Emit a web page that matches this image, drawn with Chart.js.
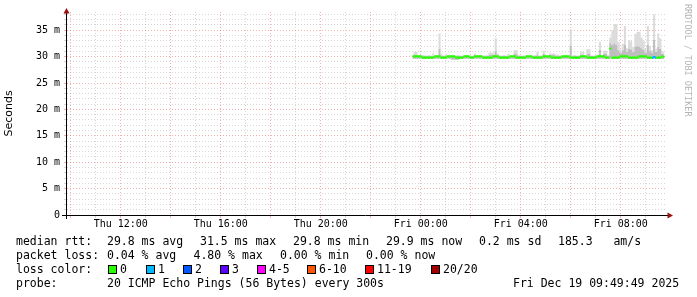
<!DOCTYPE html>
<html>
<head>
<meta charset="utf-8">
<script src="https://cdn.jsdelivr.net/npm/chart.js"></script>
<style>
  html, body { margin: 0; padding: 0; background: #fff; }
  #wrap { position: relative; width: 697px; height: 297px; overflow: hidden; }
  #c { position: absolute; left: 0; top: 0; }
  .t { position: absolute; font: 11.5px/14px 'DejaVu Sans Mono', monospace; color: #000; white-space: pre; }
  .box { position: absolute; width: 7px; height: 7px; border: 1px solid #000; }
  #wm { position: absolute; left: 683px; top: 4px; writing-mode: vertical-rl;
        font: 8.5px 'DejaVu Sans Mono', monospace; color: #b4b4b4; white-space: pre; }
</style>
</head>
<body>
<div id="wrap">
  <canvas id="c" width="697" height="297"></canvas>
  <div id="wm">RRDTOOL / TOBI OETIKER</div>
</div>
<script>
/* smokeping style latency graph, last 24h */

// samples every 5 minutes, first one at Thu 23:40 (hours since Thu 00:00)
const sampleStart = 23 + 40 / 60;
const sampleStep  = 5 / 60;

// median rtt (ms)
const medianRtt = [
  30.05,30.05,30.05,30.05,30.05,29.8,29.8,29.8,29.8,29.8,
  29.8,30.05,30.05,30.05,29.8,29.8,29.8,30.05,30.05,30.05,
  30.05,29.8,29.8,29.8,29.8,30.05,30.05,30.05,29.8,29.8,
  30.05,30.05,30.05,30.05,29.8,29.8,29.8,29.8,29.8,30.05,
  30.05,30.05,29.8,29.8,29.8,29.8,29.8,30.05,30.05,30.05,
  29.8,29.8,29.8,29.8,29.8,30.05,30.05,30.05,29.8,29.8,
  29.8,29.8,29.8,30.05,30.05,30.05,30.05,29.8,29.8,29.8,
  29.8,29.8,30.05,30.05,30.05,30.05,29.8,29.8,29.8,29.8,
  29.8,30.05,30.05,30.05,29.8,29.8,29.8,29.8,29.8,30.05,
  30.05,30.05,30.05,29.8,29.8,31.5,29.8,29.8,29.8,29.8,
  30.05,30.05,30.05,30.05,29.8,29.8,29.8,29.8,29.8,30.05,
  30.05,30.05,30.05,29.8,29.8,29.8,29.9,29.8,29.8,29.8,
  30.05,29.9
];

// smoke: fastest ping, inner band top, slowest ping (ms)
const smokeLo = [
  29.6,29.6,29.6,29.6,29.6,29.6,29.6,29.6,29.6,29.6,
  29.6,29.6,29.6,29.6,29.6,29.6,29.6,29.6,29.6,29.4,
  29.4,29.4,29.4,29.6,29.6,29.6,29.6,29.6,29.6,29.6,
  29.6,29.6,29.6,29.6,29.6,29.6,29.6,29.6,29.6,29.6,
  29.6,29.6,29.6,29.6,29.6,29.6,29.6,29.6,29.6,29.6,
  29.6,29.6,29.6,29.6,29.6,29.6,29.6,29.6,29.6,29.6,
  29.6,29.6,29.6,29.6,29.6,29.6,29.6,29.6,29.6,29.6,
  29.6,29.6,29.6,29.6,29.6,29.6,29.6,29.6,29.6,29.6,
  29.6,29.6,29.6,29.6,29.6,29.6,29.6,29.6,29.6,29.6,
  29.6,29.6,29.6,29.6,29.6,29.6,29.6,29.6,29.6,29.6,
  29.6,29.6,29.6,29.6,29.6,29.6,29.6,29.6,29.6,29.6,
  29.6,29.6,29.6,29.6,29.6,29.6,29.6,29.6,29.6,29.6,
  29.6,29.6
];
const smokeMid = [
  30.1,30.4,30.4,30.1,30.1,30.1,30.1,30.1,30.1,30.1,
  30.2,30.1,30.1,31.5,30.2,30.1,30.2,30.1,30.1,30.1,
  30.1,30.1,30.1,30.1,30.1,30.1,30.1,30.1,30.1,30.1,
  30.2,30.1,30.1,30.1,30.1,30.1,30.1,30.3,30.3,30.3,
  31.0,30.2,30.1,30.1,30.1,30.1,30.2,30.1,30.1,30.5,
  30.5,30.1,30.1,30.1,30.1,30.1,30.1,30.1,30.1,30.1,
  30.4,30.1,30.1,30.5,30.1,30.1,30.3,30.3,30.3,30.2,
  30.2,30.1,30.1,30.1,30.1,30.1,32.0,30.1,30.1,30.1,
  30.1,30.4,30.4,30.1,30.6,30.6,30.1,30.1,30.1,30.2,
  31.3,30.1,30.5,30.5,30.1,32.6,32.3,32.6,32.2,31.2,
  30.7,31.2,32.2,30.9,31.5,31.4,30.9,31.8,32.0,31.9,
  31.6,31.3,30.8,32.2,31.1,30.7,33.2,30.9,31.8,31.5,
  30.6,30.4
];
const smokeHi = [
  30.2,30.85,30.85,30.2,30.2,30.3,30.2,30.2,30.3,30.2,
  30.6,30.2,30.3,34.4,30.6,30.2,30.5,30.2,30.2,30.3,
  30.2,30.2,30.3,30.2,30.2,30.2,30.3,30.2,30.2,30.2,
  30.6,30.2,30.2,30.3,30.2,30.2,30.3,30.8,30.8,30.8,
  33.5,30.6,30.2,30.2,30.3,30.2,30.5,30.2,30.2,31.2,
  31.2,30.3,30.2,30.2,30.2,30.3,30.2,30.2,30.2,30.3,
  30.9,30.2,30.2,31.1,30.2,30.3,30.6,30.6,30.6,30.4,
  30.4,30.2,30.2,30.3,30.2,30.2,35.2,30.2,30.3,30.2,
  30.2,30.9,30.9,30.3,31.4,31.4,30.2,30.2,30.3,30.4,
  32.8,30.3,31.1,31.1,30.3,33.6,35.0,36.2,36.2,32.7,
  31.3,32.4,35.8,31.6,33.1,32.9,31.8,34.3,34.7,34.7,
  33.6,33.0,31.5,35.8,32.0,31.2,38.0,31.5,34.4,33.5,
  31.0,30.8
];

// pings lost out of 20
const lostPings = [
  0,0,0,0,0,0,0,0,0,0, 0,0,0,0,0,0,0,0,0,0,
  0,0,0,0,0,0,0,0,0,0, 0,0,0,0,0,0,0,0,0,0,
  0,0,0,0,0,0,0,0,0,0, 0,0,0,0,0,0,0,0,0,0,
  0,0,0,0,0,0,0,0,0,0, 0,0,0,0,0,0,0,0,0,0,
  0,0,0,0,0,0,0,0,0,0, 0,0,0,0,0,0,0,0,0,0,
  0,0,0,0,0,0,0,0,0,0, 0,0,0,0,0,0,1,0,0,0,
  0,0
];

const lossLabels = ['0', '1', '2', '3', '4-5', '6-10', '11-19', '20/20'];
const lossUpTo   = [0, 1, 2, 3, 5, 10, 19, 20];
const lossColors = ['#26ff00', '#00b8ff', '#0059ff', '#5e00ff', '#ff00ff', '#ff5500', '#ff0000', '#a10000'];

// axes
const xGridHours  = [10,11,12,13,14,15,16,17,18,19,20,21,22,23,24,25,26,27,28,29,30,31,32,33];
const xLabelHours = [12, 16, 20, 24, 28, 32];
const xLabels     = ['Thu 12:00', 'Thu 16:00', 'Thu 20:00', 'Fri 00:00', 'Fri 04:00', 'Fri 08:00'];
const yGrid       = [0,1,2,3,4,5,6,7,8,9,10,11,12,13,14,15,16,17,18,19,20,21,22,23,24,25,26,27,28,29,30,31,32,33,34,35,36,37,38];
const yLabelMs    = [0, 5, 10, 15, 20, 25, 30, 35];
const yLabels     = ['0', '5 m', '10 m', '15 m', '20 m', '25 m', '30 m', '35 m'];

// legend text
const statLines = [
  ['median rtt:', '29.8 ms avg', '31.5 ms max', '29.8 ms min', '29.9 ms now', '0.2 ms sd', '185.3   am/s'],
  ['packet loss:', '0.04 % avg', '4.80 % max', '0.00 % min', '0.00 % now'],
  ['loss color:'],
  ['probe:', '20 ICMP Echo Pings (56 Bytes) every 300s', 'Fri Dec 19 09:49:49 2025'],
];

// layout (pixels)
const statX   = [
  [16, 107, 200, 293, 386, 479, 558],
  [16, 107, 193.5, 280, 366],
  [16],
  [16, 107, 513],
];
const lineTop = [234, 248, 262, 276];
const boxX    = [108, 146, 183, 220, 257, 307, 365, 431];
const medianHalfBand = 0.22;   // ms, half thickness of the median band

const MAJOR = 'rgba(225, 70, 70, 0.42)';
const MINOR = 'rgba(140, 140, 140, 0.36)';
const MONO  = "'DejaVu Sans Mono', monospace";

const wrap = document.getElementById('wrap');
statLines.forEach((parts, li) => {
  parts.forEach((txt, k) => {
    const s = document.createElement('div');
    s.className = 't';
    s.style.left = statX[li][k] + 'px';
    s.style.top = lineTop[li] + 'px';
    s.textContent = txt;
    wrap.appendChild(s);
  });
});
lossLabels.forEach((lbl, k) => {
  const b = document.createElement('div');
  b.className = 'box';
  b.style.left = boxX[k] + 'px';
  b.style.top = '265px';
  b.style.background = lossColors[k];
  wrap.appendChild(b);
  const s = document.createElement('div');
  s.className = 't';
  s.style.left = (boxX[k] + 12) + 'px';
  s.style.top = lineTop[2] + 'px';
  s.textContent = lbl;
  wrap.appendChild(s);
});

const times = medianRtt.map((_, i) => sampleStart + i * sampleStep);
const pts = arr => arr.map((v, i) => ({ x: times[i], y: v }));
const lossClass = n => lossUpTo.findIndex(m => n <= m);
const segColor = c => lossColors[Math.max(
  lossClass(lostPings[c.p0DataIndex]), lossClass(lostPings[c.p1DataIndex]))];

const axisArrows = {
  id: 'axisArrows',
  afterDraw(chart) {
    const { ctx, chartArea: a } = chart;
    const x0 = a.left - 0.5, y0 = a.bottom + 0.5;
    ctx.save();
    ctx.strokeStyle = '#000';
    ctx.lineWidth = 1;
    ctx.beginPath();
    ctx.moveTo(x0, a.bottom + 4);
    ctx.lineTo(x0, a.top - 1);
    ctx.moveTo(a.left - 5, y0);
    ctx.lineTo(a.right + 2, y0);
    ctx.stroke();
    ctx.fillStyle = '#9a1010';
    ctx.beginPath();
    ctx.moveTo(x0, a.top - 4);
    ctx.lineTo(x0 - 3, a.top + 1.5);
    ctx.lineTo(x0 + 3, a.top + 1.5);
    ctx.closePath();
    ctx.fill();
    ctx.beginPath();
    ctx.moveTo(a.right + 6, y0);
    ctx.lineTo(a.right + 0.5, y0 - 3);
    ctx.lineTo(a.right + 0.5, y0 + 3);
    ctx.closePath();
    ctx.fill();
    ctx.restore();
  }
};

const band = { borderWidth: 0, pointRadius: 0, stepped: 'middle' };

new Chart(document.getElementById('c'), {
  type: 'line',
  data: {
    datasets: [
      { ...band, data: pts(smokeLo), order: 5, fill: false },
      { ...band, data: pts(smokeMid), order: 4, fill: '-1', backgroundColor: '#bebebe' },
      { ...band, data: pts(smokeHi), order: 3, fill: '-1', backgroundColor: '#dcdcdc' },
      // median drawn as a thin band around the value, coloured by loss
      { ...band, data: pts(medianRtt.map(v => v - medianHalfBand)), order: 2, fill: false },
      {
        ...band, data: pts(medianRtt.map(v => v + medianHalfBand)), order: 1,
        fill: '-1', backgroundColor: lossColors[0],
        segment: { backgroundColor: segColor },
      },
    ],
  },
  options: {
    responsive: false,
    animation: false,
    events: [],
    layout: { padding: { top: 12, right: 30, left: 0, bottom: 0 } },
    plugins: { legend: { display: false }, tooltip: { enabled: false } },
    scales: {
      x: {
        type: 'linear',
        min: 9.85,
        max: 33.85,
        afterBuildTicks: s => { s.ticks = xGridHours.map(v => ({ value: v })); },
        afterFit: s => { s.height = 82; },
        grid: {
          color: c => (c.tick.value % 2 === 0 ? MAJOR : MINOR),
          tickColor: c => (c.tick.value % 2 === 0 ? MAJOR : MINOR),
          tickLength: 3,
        },
        border: { display: false, dash: [1, 2] },
        ticks: {
          autoSkip: false,
          maxRotation: 0,
          padding: 0,
          color: '#000',
          font: { family: MONO, size: 10 },
          callback: v => {
            const k = xLabelHours.indexOf(v);
            return k < 0 ? '' : xLabels[k];
          },
        },
      },
      y: {
        min: 0,
        max: 38.45,
        afterBuildTicks: s => { s.ticks = yGrid.map(v => ({ value: v })); },
        afterFit: s => { s.width = 67; },
        grid: {
          color: c => (c.tick.value % 5 === 0 ? MAJOR : MINOR),
          tickColor: c => (c.tick.value % 5 === 0 ? MAJOR : MINOR),
          tickLength: 3,
        },
        border: { display: false, dash: [1, 2] },
        ticks: {
          autoSkip: false,
          padding: 4,
          color: '#000',
          font: { family: MONO, size: 10 },
          callback: v => {
            const k = yLabelMs.indexOf(v);
            return k < 0 ? '' : yLabels[k];
          },
        },
        title: {
          display: true,
          text: 'Seconds',
          color: '#000',
          font: { family: "'DejaVu Sans', sans-serif", size: 11 },
          padding: { top: 3, bottom: 0 },
        },
      },
    },
  },
  plugins: [axisArrows],
});
</script>
</body>
</html>
